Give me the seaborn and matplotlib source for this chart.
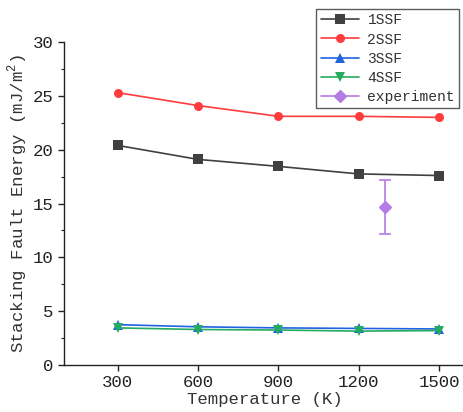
import numpy as np
import pandas as pd
import seaborn as sns
import matplotlib
matplotlib.use("Agg")
import matplotlib.pyplot as plt
from matplotlib.ticker import MultipleLocator
from matplotlib.lines import Line2D

temperature = [300, 600, 900, 1200, 1500]
sfe_1ssf = [20.4, 19.1, 18.45, 17.75, 17.6]
sfe_2ssf = [25.3, 24.1, 23.1, 23.1, 23.0]
sfe_3ssf = [3.75, 3.55, 3.45, 3.4, 3.35]
sfe_4ssf = [3.45, 3.3, 3.25, 3.15, 3.2]
series_names = ["1SSF", "2SSF", "3SSF", "4SSF"]

exp_temperature = [1300]
exp_sfe = [14.7]
exp_err = [2.5]

sns.set_theme(style="ticks")
plt.rcParams["font.family"] = ["Liberation Mono", "DejaVu Sans"]
plt.rcParams["mathtext.fontset"] = "custom"
plt.rcParams["mathtext.rm"] = "Liberation Mono"

df = pd.DataFrame({
    "T": temperature * 4,
    "SFE": sfe_1ssf + sfe_2ssf + sfe_3ssf + sfe_4ssf,
    "kind": [n for n in series_names for _ in temperature],
})

palette = {"1SSF": "#404040", "2SSF": "#ff3c3c", "3SSF": "#1f63e0", "4SSF": "#25ab5f"}
markers = {"1SSF": "s", "2SSF": "o", "3SSF": "^", "4SSF": "v"}
exp_color = "#b57ce6"

fig = plt.figure(figsize=(4.64, 4.12), dpi=100)
ax = fig.add_axes([0.138, 0.114, 0.866, 0.784])

sns.lineplot(data=df, x="T", y="SFE", hue="kind", style="kind",
             palette=palette, markers=markers, dashes=False,
             markersize=6.5, markeredgewidth=0, linewidth=1.2, ax=ax)

ax.errorbar(exp_temperature, exp_sfe, yerr=exp_err, fmt="D", color=exp_color,
            markersize=6, capsize=4, elinewidth=1.2, capthick=1.2)

ax.set_xlim(100, 1600)
ax.set_ylim(0, 30)
ax.set_xticks(temperature)
ax.yaxis.set_major_locator(MultipleLocator(5))
ax.yaxis.set_minor_locator(MultipleLocator(2.5))
ax.tick_params(axis="both", which="major", labelsize=12.5, length=4, width=1,
               color="#222222", labelcolor="#222222", direction="out")
ax.tick_params(axis="y", which="minor", length=2.5, width=0.8, color="#222222")
for s in ("top", "right"):
    ax.spines[s].set_visible(False)
for s in ("left", "bottom"):
    ax.spines[s].set_color("#222222")
    ax.spines[s].set_linewidth(1.0)

ax.set_xlabel("Temperature (K)", fontsize=12.5, color="#333333", labelpad=1)
ax.set_ylabel("Stacking Fault Energy (mJ/m$^2$)", fontsize=12.5, color="#333333",
              labelpad=2)

handles, labels = ax.get_legend_handles_labels()
handles = handles[:4] + [Line2D([], [], color=exp_color, marker="D",
                                markersize=6, linewidth=1.2)]
labels = labels[:4] + ["experiment"]
leg = ax.legend(handles, labels, loc="upper right",
                bbox_to_anchor=(0.99, 0.978), bbox_transform=fig.transFigure,
                fontsize=10.5, frameon=True, fancybox=False, handlelength=2.6,
                borderpad=0.3, labelspacing=0.35, handletextpad=0.6,
                borderaxespad=0)
leg.get_frame().set_edgecolor("#333333")
leg.get_frame().set_linewidth(1.0)
for t in leg.get_texts():
    t.set_color("#333333")

fig.savefig("out.png", dpi=100)
